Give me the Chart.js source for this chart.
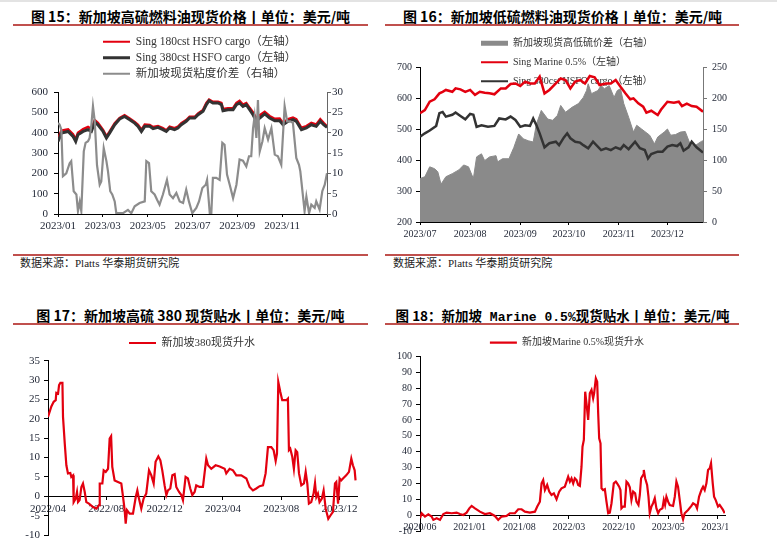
<!DOCTYPE html>
<html>
<head>
<meta charset="utf-8">
<script src="https://cdn.jsdelivr.net/npm/chart.js@4.4.0/dist/chart.umd.min.js"></script>
<style>
  body { margin: 0; background: #fff; }
  #page { position: relative; width: 777px; height: 542px; overflow: hidden; background: #fff; }
  .title { position: absolute; width: 355px; text-align: center; font: bold 14px "Noto Sans CJK SC", sans-serif; line-height: 20px; color: #000; white-space: nowrap; }
  .mono { font-family: "Liberation Mono", monospace; font-size: 13px; }
  .rule { position: absolute; height: 2px; background: #c0504d; }
  .src { position: absolute; font: 11px "Liberation Serif", "Noto Sans CJK SC", serif; line-height: 14px; color: #222; white-space: nowrap; }
  canvas { position: absolute; }
</style>
</head>
<body>
<div id="page">
  <div class="rule" style="left:0;top:0;width:777px;background:#e3e3e3"></div>

  <div class="title" style="left:13px;top:6px">图 15：新加坡高硫燃料油现货价格丨单位：美元/吨</div>
  <div class="title" style="left:385px;top:6px">图 16：新加坡低硫燃料油现货价格丨单位：美元/吨</div>
  <div class="rule" style="left:13px;top:24px;width:355px"></div>
  <div class="rule" style="left:385px;top:24px;width:354px"></div>

  <canvas id="c15" width="360" height="212" style="left:0;top:28px"></canvas>
  <canvas id="c16" width="360" height="214" style="left:383px;top:28px"></canvas>

  <div class="rule" style="left:13px;top:254px;width:355px"></div>
  <div class="rule" style="left:385px;top:254px;width:354px"></div>
  <div class="src" style="left:20px;top:256px">数据来源：Platts 华泰期货研究院</div>
  <div class="src" style="left:393px;top:256px">数据来源：Platts 华泰期货研究院</div>

  <div class="title" style="left:13px;top:305px">图 17：新加坡高硫 380 现货贴水丨单位：美元/吨</div>
  <div class="title" style="left:385px;top:305px;font-size:13.5px">图 18：新加坡<span class="mono"> Marine 0.5%</span>现货贴水丨单位：美元/吨</div>
  <div class="rule" style="left:13px;top:323px;width:355px"></div>
  <div class="rule" style="left:385px;top:323px;width:354px"></div>

  <canvas id="c17" width="375" height="212" style="left:0;top:330px"></canvas>
  <canvas id="c18" width="345" height="212" style="left:383px;top:330px"></canvas>
</div>

<script>
// ---- 图15: months from 2023/01 ----
const months15 = [0,0.15,0.45,0.67,0.79,0.89,1.12,1.34,1.49,1.64,1.78,2.01,2.16,2.30,2.53,2.75,2.97,3.20,3.42,3.57,3.72,3.87,4.09,4.24,4.46,4.68,4.83,4.98,5.20,5.35,5.50,5.72,5.87,6.10,6.25,6.47,6.62,6.74,6.91,7.14,7.29,7.36,7.58,7.81,7.96,8.10,8.25,8.40,8.55,8.70,8.85,9.00,9.22,9.44,9.67,9.89,10.04,10.26,10.48,10.63,10.86,11.08,11.30,11.52,11.70,11.85,12.0];
const hsfo180 = [368,410,416,392,368,400,418,428,418,462,448,414,382,405,446,472,486,470,452,438,414,440,438,428,432,422,412,430,422,430,446,462,478,478,494,512,546,563,552,552,546,516,520,520,546,556,538,546,522,500,470,486,502,482,468,470,448,466,474,466,424,432,448,440,466,448,432];
const hsfo380 = [357,398,406,382,357,390,406,415,406,452,439,406,374,398,439,467,480,464,447,431,406,431,431,420,426,415,406,423,415,423,439,456,472,472,488,505,538,557,546,546,538,508,513,513,538,546,529,538,513,488,456,472,492,472,459,459,439,456,464,456,415,423,439,431,456,439,426];
const viscMonths15 = [0,0.07,0.15,0.22,0.37,0.52,0.59,0.70,0.82,0.89,0.97,1.04,1.15,1.23,1.34,1.41,1.49,1.56,1.64,1.74,1.86,1.93,2.04,2.16,2.23,2.33,2.42,2.53,2.60,2.75,2.90,3.12,3.27,3.42,3.64,3.87,3.94,4.06,4.16,4.31,4.42,4.53,4.68,4.86,4.98,5.13,5.28,5.43,5.58,5.72,5.84,5.99,6.17,6.29,6.44,6.59,6.65,6.71,6.77,6.84,6.91,7.06,7.21,7.33,7.43,7.54,7.66,7.81,7.96,8.10,8.25,8.40,8.52,8.62,8.70,8.77,8.85,8.92,9.00,9.12,9.22,9.37,9.52,9.67,9.81,9.96,10.11,10.22,10.36,10.48,10.63,10.75,10.81,11.00,11.08,11.20,11.30,11.45,11.52,11.67,11.79,11.90,12.00];
const viscSpread = [22.4,22,20.7,9.3,10,12.5,13,5.6,4.8,0.7,3,0.7,15.4,17.5,17.9,18.7,22,26.5,22.8,12,7.2,8,16.2,13,10.5,5.6,4.8,3.1,0.2,0.2,0.2,1,0.2,1.9,2.7,3.1,13,12.5,5.6,4.8,3.5,2.3,4.8,8.4,4.8,3.9,5.2,3.1,2.7,6,3.1,0.2,1.5,3.1,6.4,7.2,8.4,4.3,0.2,0.2,8.9,8.9,8.4,17.5,17,9.7,7.2,3.9,7.2,13.4,13.1,11.7,14.2,14.2,21,24,18.7,28,15.4,17.9,21.1,18.3,21.1,14.6,14.2,12.1,26.5,22.8,22.8,22.4,13.8,12.1,10.5,0.7,4.3,0.2,2.3,1.5,3.1,1.1,5.6,7.2,10];
const xTicks15 = [0,2,4,6,8,10,12];
const xLabels15 = ['2023/01','2023/03','2023/05','2023/07','2023/09','2023/11',''];

// ---- 图16: days from 2023/07/01 ----
const lsDays16 = [0,3,6,9,12,14,16,20,22,25,28,31,34,37,40,43,46,50,53,56,59,62,65,68,71,74,77,80,84,87,90,93,96,99,102,105,108,111,115,118,121,124,127,130,132,135,138,140,143,147,149,153,157,160,162,165,168,171,175];
const marine05 = [551,561,588,596,615,620,626,620,631,628,620,626,610,620,617,615,612,631,631,645,647,639,653,647,647,669,615,626,647,663,658,631,653,658,647,671,667,642,647,647,658,636,615,596,599,583,572,553,559,545,562,588,585,588,574,582,574,572,556];
const hsDays16 = [0,3,6,10,12,14,16,20,22,25,28,31,33,35,38,42,46,49,53,56,59,62,65,68,70,72,74,77,80,84,86,89,91,93,96,99,101,104,107,112,115,118,121,124,126,129,133,136,139,141,143,147,150,153,156,159,161,163,166,168,171,175];
const hsfo380b = [475,486,495,510,551,555,540,546,553,542,531,549,546,507,512,507,510,534,531,540,529,507,512,510,534,512,486,441,454,459,448,473,486,470,459,456,448,438,459,432,438,432,441,435,448,435,459,438,432,405,419,427,427,443,448,445,454,430,441,459,441,424];
const spreadDays16 = [0,3,6,9,11,13,16,20,24,27,30,33,35,38,40,43,47,48,51,55,58,61,64,67,70,72,75,79,82,85,87,90,94,98,101,103,104,106,110,112,114,117,120,122,124,126,129,132,134,137,142,145,147,151,153,155,158,161,164,167,170,174,175];
const hiLoSpread = [70,73,89,86,81,61,73,78,84,92,89,70,105,110,99,105,107,97,102,102,120,142,134,131,129,158,180,166,164,172,188,177,185,191,201,212,223,207,212,220,215,220,201,212,215,191,169,145,156,150,140,126,137,145,150,140,141,145,146,126,123,130,131];
const xTicks16 = [0,31,62,92,123,153];
const xLabels16 = ['2023/07','2023/08','2023/09','2023/10','2023/11','2023/12'];

// ---- 图17: months from 2022/04 ----
const months17 = [0,0.23,0.39,0.53,0.57,0.69,0.76,0.85,0.99,1.03,1.15,1.26,1.37,1.53,1.60,1.72,1.76,1.90,1.99,2.06,2.17,2.29,2.40,2.52,2.63,2.81,3.09,3.32,3.50,3.55,3.73,3.82,3.96,4.12,4.23,4.33,4.41,4.57,4.80,5.03,5.15,5.26,5.33,5.42,5.60,5.83,6.02,6.13,6.24,6.40,6.56,6.74,6.93,7.09,7.25,7.38,7.57,7.71,7.84,8.00,8.12,8.23,8.39,8.53,8.69,8.80,8.99,9.15,9.26,9.44,9.60,9.76,9.90,10.06,10.17,10.40,10.63,10.86,10.98,11.20,11.50,11.78,12.12,12.23,12.46,12.69,12.92,13.26,13.61,13.83,14.06,14.29,14.52,14.75,14.93,15.09,15.32,15.48,15.62,15.71,15.80,15.94,16.07,16.35,16.46,16.53,16.62,16.76,16.87,16.99,17.10,17.22,17.38,17.56,17.68,17.79,17.90,18.06,18.22,18.32,18.41,18.52,18.63,18.79,18.91,19.05,19.23,19.39,19.55,19.69,19.78,19.90,20.01,20.12,20.24,20.46,20.65,20.81,20.92,21.04,21.10];
const premium380 = [20.5,23.2,24.4,24.8,26.7,26.5,28.7,29.3,29.3,20.5,13.6,8.0,5.9,6.0,5.0,5.4,-1.5,-0.6,1.1,-1.5,-1.0,2.4,3.3,1.1,-1.5,-1.9,-2.8,-3.2,-2.3,3.3,3.3,6.7,6.3,7.1,14.9,15.5,7.6,4.1,3.7,3.3,-0.2,-3.6,-7.1,-3.6,-4.5,-4.5,-0.2,1.5,-0.6,-3.2,-0.6,0.7,6.7,5.4,3.3,8.9,10.3,9.3,6.7,2.8,0.3,1.5,2.0,5.4,5.7,2.4,1.1,0.3,-1.0,5.0,4.6,2.0,0.3,1.1,2.8,2.4,2.4,9.7,8.0,7.1,8.0,7.7,7.1,5.9,7.1,6.7,5.4,5.4,4.6,2.4,1.5,2.0,2.6,2.8,5.9,12.7,12.7,11.9,9.1,11.0,29.5,26.9,24.8,24.8,25.2,11.9,12.3,10.2,7.1,11.9,11.4,5.9,2.8,3.3,6.3,3.3,-1.9,-1.5,0.7,3.4,-0.2,0.7,-1.5,-0.6,1.5,-3.2,-5.8,-4.9,-4.0,3.3,3.7,-1.9,4.6,4.1,4.6,5.4,6.3,9.7,8.0,6.7,4.1];
const xTicks17 = [0,4,8,12,16,20];
const xLabels17 = ['2022/04','2022/08','2022/12','2023/04','2023/08','2023/12'];

// ---- 图18: months from 2020/06 ----
const months18 = [0.00,0.23,0.70,1.17,1.64,1.88,2.35,2.82,3.29,3.76,4.46,5.16,5.63,6.10,6.57,6.95,7.28,7.75,8.45,9.15,9.86,10.56,11.03,11.50,12.21,12.68,13.38,13.85,14.32,14.79,15.49,16.20,16.53,16.90,17.14,17.37,17.61,17.93,18.22,18.54,18.87,19.25,19.62,19.95,20.42,20.66,20.89,21.13,21.36,21.60,21.83,22.07,22.30,22.54,22.77,22.91,23.10,23.29,23.47,23.71,23.94,24.18,24.41,24.55,24.79,24.98,25.12,25.26,25.45,25.59,25.82,26.06,26.29,26.53,26.76,27.00,27.32,27.61,27.79,28.08,28.26,28.40,28.64,28.87,29.11,29.34,29.58,29.81,30.05,30.33,30.52,30.80,30.99,31.17,31.46,31.55,31.74,32.02,32.21,32.39,32.63,32.86,33.10,33.33,33.57,33.80,34.18,34.37,34.55,34.74,34.98,35.21,35.68,35.92,36.15,36.38,36.62,36.85,37.09,37.32,37.79,38.26,38.50,38.87,39.06,39.34,39.67,39.91,40.14,40.38,40.61,40.85,41.03,41.27,41.46,41.69,42.02,42.25,42.72,42.96];
const premiumMarine = [-1.9,1.3,-0.8,0.6,-0.8,-2.9,-1.9,-2.9,0.8,1.7,1.3,1.7,0.8,0.2,1.7,4.4,5.9,4.4,2.3,0.8,1.3,-0.4,-2.9,-0.8,-0.4,1.3,1.3,3.8,3.8,2.3,1.7,2.3,5.5,8.6,20.1,22.2,15.9,19.1,14.9,12.8,13.8,10.1,14.9,17.0,18.0,21.2,24.3,21.2,23.3,20.1,23.3,22.2,19.1,18.5,30.6,43.2,47.4,77.8,70.5,60.0,76.8,78.9,73.6,76.8,86.2,84.1,64.2,48.5,45.3,17.0,15.9,16.4,8.6,1.3,1.7,7.6,20.1,21.2,20.1,18.0,15.9,4.4,5.5,5.5,21.2,20.1,17.6,9.6,14.9,13.8,8.6,6.5,12.8,23.3,25.4,28.5,23.3,19.1,11.7,1.3,5.5,7.6,10.7,4.4,1.3,3.4,4.4,9.6,6.5,11.7,8.6,6.5,5.9,11.7,21.2,18.0,9.6,1.3,-2.5,1.3,3.4,5.9,7.6,6.5,4.4,11.7,15.9,18.0,15.9,20.1,28.5,29.6,32.7,20.1,11.7,9.6,5.5,6.5,3.4,1.3];
const xTicks18 = [0,7,14,21,28,35,42];
const xLabels18 = ['2020/06','2021/01','2021/08','2022/03','2022/10','2023/05','2023/12'];

const SERIF = '"Liberation Serif", "Noto Sans CJK SC", serif';
const INK = '#1e2433';
const RED = '#e3000f';

function pts(xs, ys) {
  return xs.map((x, i) => ({ x: x, y: ys[i] }));
}

// legend entries: short line for lines, flat box for the filled area
function legendItems(chart) {
  return chart.data.datasets.map((d, i) => ({
    text: d.label,
    datasetIndex: i,
    fontColor: '#333',
    fillStyle: d.fill ? d.backgroundColor : d.borderColor,
    strokeStyle: d.fill ? d.backgroundColor : d.borderColor,
    lineWidth: d.fill ? 0 : (d.legendWidth || d.borderWidth),
    pointStyle: d.fill ? 'rect' : 'line'
  }));
}

// moves the legend to where the report puts it (it may sit over the plot)
// and gives its box room again, since the legend clips to that box
const shiftLegend = {
  id: 'shiftLegend',
  afterLayout(chart, args, o) {
    const lg = chart.legend;
    lg.left += o.dx; lg.right += o.dx;
    lg.top += o.dy;
    lg.height = 80;
    lg.bottom = lg.top + 80;
  }
};

function legend(size, pad, boxH, align) {
  return {
    position: 'top', align: align, fullSize: false, maxHeight: 1,
    labels: {
      usePointStyle: true, pointStyleWidth: 27, boxHeight: boxH, padding: pad,
      color: '#333', font: { family: SERIF, size: size },
      generateLabels: legendItems
    }
  };
}

function xAxis(min, max, ticksAt, labels, size, extra) {
  return Object.assign({
    type: 'linear', min: min, max: max,
    grid: { display: true, drawOnChartArea: false, drawTicks: true, tickLength: 3, tickColor: '#000' },
    border: { display: true, color: '#000', width: 1 },
    ticks: {
      autoSkip: false, maxRotation: 0, padding: 3, color: INK,
      font: { family: SERIF, size: size },
      callback: (v, i) => labels[i]
    },
    afterBuildTicks: s => { s.ticks = ticksAt.map(v => ({ value: v })); }
  }, extra);
}

function yAxis(pos, min, max, step, size, width, top, color, tickPad) {
  return {
    type: 'linear', position: pos, min: min, max: max,
    grid: { display: true, drawOnChartArea: false, drawTicks: true, tickLength: 4, tickColor: color },
    border: { display: true, color: color, width: 1 },
    ticks: { stepSize: step, padding: tickPad, color: INK, font: { family: SERIF, size: size } },
    afterFit: s => { s.width = width; s.paddingTop = top; s.paddingBottom = 0; }
  };
}

const base = {
  responsive: false,
  animation: false,
  events: [],
  elements: { point: { radius: 0 }, line: { tension: 0 } }
};

// 图15
new Chart(document.getElementById('c15'), {
  type: 'line',
  data: {
    datasets: [
      { label: 'Sing 180cst HSFO cargo（左轴）', data: pts(months15, hsfo180), borderColor: RED, borderWidth: 2.5, legendWidth: 2, fill: false, yAxisID: 'y', order: 2 },
      { label: 'Sing 380cst HSFO cargo（左轴）', data: pts(months15, hsfo380), borderColor: '#333333', borderWidth: 3, fill: false, yAxisID: 'y', order: 1 },
      { label: '新加坡现货粘度价差（右轴）', data: pts(viscMonths15, viscSpread), borderColor: '#8c8c8c', borderWidth: 2.2, legendWidth: 2, fill: false, yAxisID: 'y1', order: 0 }
    ]
  },
  options: Object.assign({}, base, {
    plugins: {
      legend: legend(11.5, 4.5, 11.5, 'start'),
      tooltip: { enabled: false },
      shiftLegend: { dx: 40.5, dy: -59.5 }
    },
    scales: {
      x: xAxis(0, 12, xTicks15, xLabels15, 11, {
        afterFit: s => { s.height = 26; s.paddingLeft = 0; s.paddingRight = 0; }
      }),
      y: yAxis('left', 0, 600, 100, 11, 58, 64, '#000', 6),
      y1: yAxis('right', 0, 30, 5, 11, 33, 0, '#666', 1)
    }
  }),
  plugins: [shiftLegend]
});

// 图16
new Chart(document.getElementById('c16'), {
  type: 'line',
  data: {
    datasets: [
      { label: '新加坡现货高低硫价差（右轴）', data: pts(spreadDays16, hiLoSpread), borderColor: '#8a8a8a', backgroundColor: '#8a8a8a', borderWidth: 1, fill: 'origin', yAxisID: 'y1', order: 3 },
      { label: 'Sing Marine 0.5%（左轴）', data: pts(lsDays16, marine05), borderColor: RED, borderWidth: 2.5, legendWidth: 2, fill: false, yAxisID: 'y', order: 1 },
      { label: 'Sing 380cst HSFO cargo（左轴）', data: pts(hsDays16, hsfo380b), borderColor: '#333333', borderWidth: 2.5, legendWidth: 2, fill: false, yAxisID: 'y', order: 2 }
    ]
  },
  options: Object.assign({}, base, {
    plugins: {
      legend: legend(10, 9, 5, 'start'),
      tooltip: { enabled: false },
      shiftLegend: { dx: 52, dy: -36.7 }
    },
    scales: {
      x: xAxis(0, 175, xTicks16, xLabels16, 10, {
        afterFit: s => { s.height = 20; s.paddingLeft = 0; s.paddingRight = 0; }
      }),
      y: yAxis('left', 200, 700, 100, 10, 37, 39, '#000', 4),
      y1: yAxis('right', 0, 250, 50, 10, 40, 0, '#777', 5)
    }
  }),
  plugins: [shiftLegend]
});

// 图17
new Chart(document.getElementById('c17'), {
  type: 'line',
  data: {
    datasets: [
      { label: '新加坡380现货升水', data: pts(months17, premium380), borderColor: RED, borderWidth: 2.2, fill: false }
    ]
  },
  options: Object.assign({}, base, {
    layout: { padding: { right: 18, bottom: 7 } },
    plugins: {
      legend: legend(11, 6, 11, 'center'),
      tooltip: { enabled: false },
      shiftLegend: { dx: -10.5, dy: -28.2 }
    },
    scales: {
      x: xAxis(0, 21.2, xTicks17, xLabels17, 11, {
        position: { y: 0 },
        afterFit: s => { s.paddingLeft = 0; s.paddingRight = 0; }
      }),
      y: yAxis('left', -10, 35, 5, 11, 48, 30.7, '#000', 4)
    }
  }),
  plugins: [shiftLegend]
});

// 图18
new Chart(document.getElementById('c18'), {
  type: 'line',
  data: {
    datasets: [
      { label: '新加坡Marine 0.5%现货升水', data: pts(months18, premiumMarine), borderColor: RED, borderWidth: 2.2, fill: false }
    ]
  },
  options: Object.assign({}, base, {
    layout: { padding: { right: 3, bottom: 10.8 } },
    plugins: {
      legend: legend(10, 6, 10, 'center'),
      tooltip: { enabled: false },
      shiftLegend: { dx: -5.5, dy: -23.7 }
    },
    scales: {
      x: xAxis(0, 43, xTicks18, xLabels18, 10, {
        position: { y: 0 },
        afterFit: s => { s.paddingLeft = 0; s.paddingRight = 0; }
      }),
      y: yAxis('left', -10, 100, 10, 10, 37, 26.4, '#000', 4)
    }
  }),
  plugins: [shiftLegend]
});
</script>
</body>
</html>
